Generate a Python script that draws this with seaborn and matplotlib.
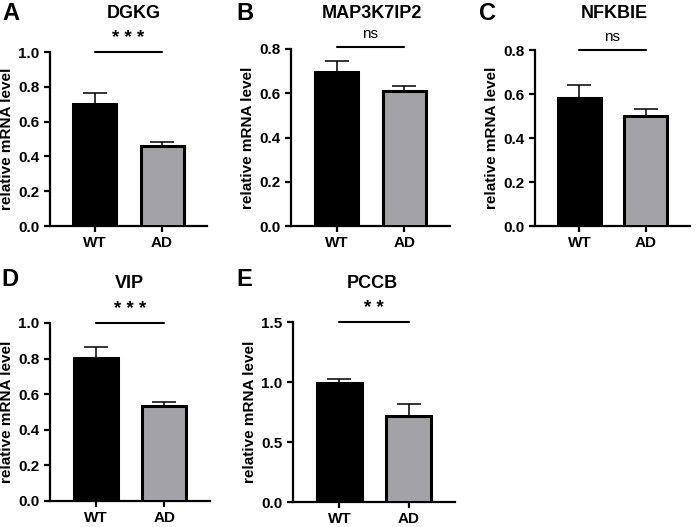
import numpy as np
import pandas as pd
import matplotlib
matplotlib.use('Agg')
import matplotlib.pyplot as plt
import seaborn as sns

sns.set_style("ticks", {"axes.edgecolor": "black", "text.color": "black",
                        "axes.labelcolor": "black", "xtick.color": "black",
                        "ytick.color": "black"})
plt.rcParams['font.family'] = ['Liberation Sans', 'DejaVu Sans']
plt.rcParams['font.weight'] = 'bold'

# data (mean and upper SEM)
groups = ["WT", "AD"]
genes = ["DGKG", "MAP3K7IP2", "NFKBIE", "VIP", "PCCB"]
letters = ["A", "B", "C", "D", "E"]
wt_mean = [0.702, 0.696, 0.584, 0.801, 0.992]
wt_err = [0.062, 0.051, 0.058, 0.066, 0.030]
ad_mean = [0.457, 0.608, 0.498, 0.534, 0.717]
ad_err = [0.023, 0.026, 0.035, 0.024, 0.097]
signif = ["* * *", "ns", "ns", "* * *", "* *"]
sig_y = [1.0, 0.81, 0.80, 1.0, 1.5]
y_max = [1.0, 0.8, 0.8, 1.0, 1.5]
y_ticks = [
    [0.0, 0.2, 0.4, 0.6, 0.8, 1.0],
    [0.0, 0.2, 0.4, 0.6, 0.8],
    [0.0, 0.2, 0.4, 0.6, 0.8],
    [0.0, 0.2, 0.4, 0.6, 0.8, 1.0],
    [0.0, 0.5, 1.0, 1.5],
]

colors = ["#000000", "#a2a1a8"]

W, H = 699, 527
fig = plt.figure(figsize=(W / 100, H / 100), dpi=100)

# axes boxes in pixels: left, right, top, bottom
boxes = [
    (50, 207, 52, 226),
    (291, 450, 49, 226),
    (535, 690, 50, 226),
    (50, 210, 323, 501),
    (293, 455, 322, 502),
]
title_pos = [(134, 13), (372, 13), (614, 13), (129, 283), (372, 283)]
letter_pos = [(2, 14), (236, 14), (479, 14), (1, 279), (236, 279)]

for i in range(5):
    l, r, t, b = boxes[i]
    ax = fig.add_axes([l / W, 1 - b / H, (r - l) / W, (b - t) / H])
    df = pd.DataFrame({"group": groups, "value": [wt_mean[i], ad_mean[i]]})
    sns.barplot(data=df, x="group", y="value", hue="group", palette=colors,
                width=0.64, edgecolor="black", linewidth=2.2, errorbar=None,
                legend=False, ax=ax, zorder=3)
    ax.errorbar([0, 1], [wt_mean[i], ad_mean[i]],
                yerr=[[0, 0], [wt_err[i], ad_err[i]]],
                fmt="none", ecolor="black", elinewidth=1.1, capsize=8.5,
                capthick=1.1, zorder=2)
    ax.set_xlim(-0.67, 1.67)
    ax.set_ylim(0, y_max[i])
    ax.set_yticks(y_ticks[i])
    ax.set_yticklabels([f"{v:.1f}" for v in y_ticks[i]])
    ax.set_xlabel("")
    ax.set_ylabel("relative mRNA level", fontsize=11, fontweight="bold", labelpad=3)
    ax.tick_params(axis="both", labelsize=11, width=1.6, length=4, direction="out",
                   colors="black")
    for lab in ax.get_xticklabels() + ax.get_yticklabels():
        lab.set_fontweight("bold")
    sns.despine(ax=ax)
    ax.spines["left"].set_linewidth(1.6)
    ax.spines["bottom"].set_linewidth(1.6)

    # significance bar
    ax.plot([0, 1], [sig_y[i], sig_y[i]], color="black", lw=1.5, clip_on=False)
    if signif[i] == "ns":
        ax.text(0.5, sig_y[i] + y_max[i] * 0.035, "ns", ha="center", va="bottom",
                fontsize=11, fontweight="normal")
    else:
        ax.text(0.5, sig_y[i] + y_max[i] * 0.03, signif[i], ha="center", va="bottom",
                fontsize=13.5, fontweight="bold")

    # gene title and panel letter
    tx, ty = title_pos[i]
    fig.text(tx / W, 1 - ty / H, genes[i], ha="center", va="center",
             fontsize=13, fontweight="bold")
    lx, ly = letter_pos[i]
    fig.text(lx / W, 1 - ly / H, letters[i], ha="left", va="center",
             fontsize=17, fontweight="bold")

fig.savefig("out.png", dpi=100)
